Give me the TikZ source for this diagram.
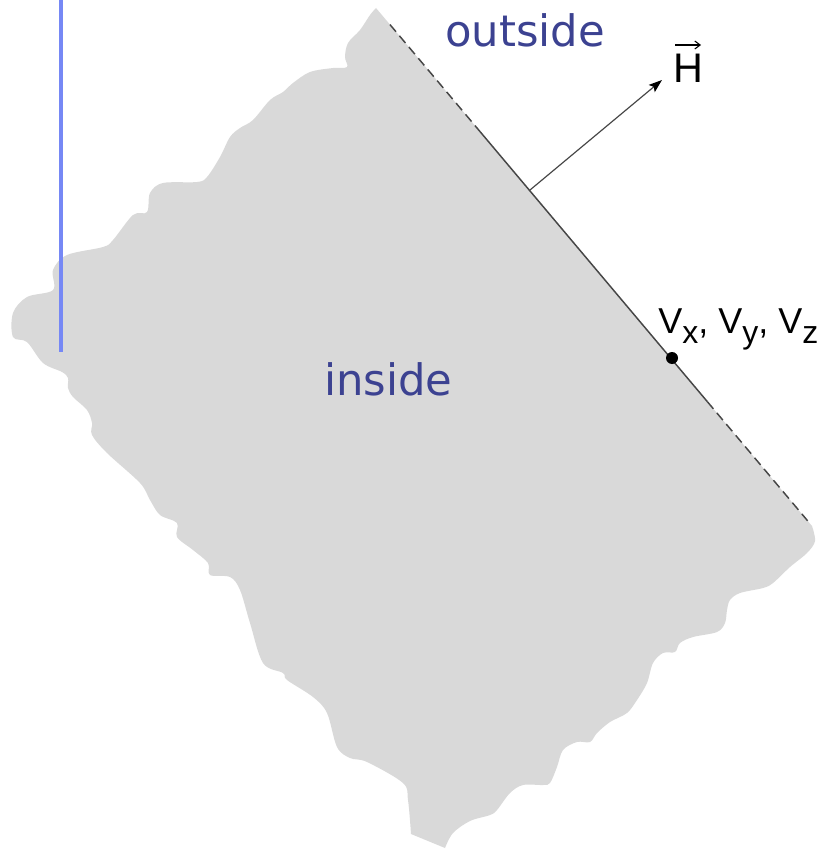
\documentclass[tikz,border=0pt]{standalone}
\usepackage{fontspec}
\setmainfont{Liberation Sans}
\newfontfamily\handfont{DejaVu Sans}
\usetikzlibrary{arrows.meta,calc}
\definecolor{shapegrey}{RGB}{217,217,217}
\definecolor{edgegrey}{RGB}{70,70,70}
\definecolor{textblue}{RGB}{60,66,145}
\definecolor{lineblue}{RGB}{118,136,245}
\tikzset{
  handtext/.style={font=\handfont\fontsize{32.5}{32.5}\selectfont, text=textblue, inner sep=0pt},
  labeltext/.style={inner sep=0pt, text=black},
  edgeline/.style={draw=edgegrey, line width=1.1pt},
  edgedash/.style={edgeline, dash pattern=on 7pt off 4pt},
}
\begin{document}
\begin{tikzpicture}[x=0.75pt,y=-0.75pt]
\useasboundingbox (0,0) rectangle (817,849);
\coordinate (A) at (376,8);
\coordinate (B) at (812,526);
% grey region
\fill[shapegrey] (A) -- (B)
  -- plot[smooth, tension=0.55] coordinates {(812,526) (815,541) (807,553) (790,567) (773,583) (763,588) (740,593) (730,600) (727,610) (725,623) (717,632) (693,637) (680,643) (675,652) (663,653) (653,663) (647,683) (637,700) (627,713) (610,722) (597,733) (590,742) (577,742) (563,750) (557,767) (550,783) (543,785) (523,785) (510,793) (497,810) (490,815) (470,821) (453,833) (445,848)}
  -- plot[smooth, tension=0.55] coordinates {(411,834) (408,800) (403,783) (367,762) (350,758) (337,747) (327,713) (313,697) (287,680) (283,673) (263,663) (250,623) (240,590) (230,577) (210,575) (208,563) (193,550) (177,537) (177,523) (160,515) (150,500) (140,483) (107,453) (92,435) (92,423) (87,410) (73,397) (68,388) (68,378) (62,372) (43,363) (27,342) (13,337) (13,313) (27,297) (53,290) (53,270) (67,255) (103,247) (113,240) (133,215) (147,212) (150,193) (163,183) (197,182) (207,177) (220,157) (230,137) (240,128) (253,120) (270,100) (283,92) (293,83) (310,72) (333,68) (347,67) (345,57) (348,43) (360,30) (370,15) (376,8)}
  -- cycle;
% boundary line
\coordinate (d1) at ($(A)!0.032!(B)$);
\coordinate (d2) at ($(A)!0.2385!(B)$);
\coordinate (d3) at ($(A)!0.76!(B)$);
\coordinate (d4) at ($(A)!0.99!(B)$);
\draw[edgedash] (d1) -- (d2);
\draw[edgeline] (d2) -- (d3);
\draw[edgedash] (d3) -- (d4);
% blue line
\coordinate (b1) at (61,0);
\coordinate (b2) at (61,352);
\draw[lineblue, line width=2.3pt] (b1) -- (b2);
% normal vector
\coordinate (hbase) at (530,190);
\coordinate (htip) at (662,80);
\draw[edgeline, line width=0.9pt, -{Stealth[length=10pt,width=7pt,inset=2pt,black]}] (hbase) -- (htip);
\node[labeltext, anchor=base west, font=\fontsize{31}{31}\selectfont] (H) at (673,83) {H};
\coordinate (va) at (675,45);
\coordinate (vb) at (701,45);
\draw[black, line width=0.8pt, -{Straight Barb[length=4pt,width=6pt]}] (va) -- (vb);
% point
\node[circle, fill=black, inner sep=0pt, minimum size=9pt] (P) at (672,358) {};
\node[labeltext, anchor=base west, font=\fontsize{27}{27}\selectfont] (V) at (658,333)
  {V\raisebox{-7.5pt}{\fontsize{24}{24}\selectfont x}, V\raisebox{-7.5pt}{\fontsize{24}{24}\selectfont y}, V\raisebox{-7.5pt}{\fontsize{24}{24}\selectfont z}};
% texts
\node[handtext, anchor=base west] (out) at (445,47) {outside};
\node[handtext, anchor=base west] (in) at (324,395) {inside};
\end{tikzpicture}
\end{document}
